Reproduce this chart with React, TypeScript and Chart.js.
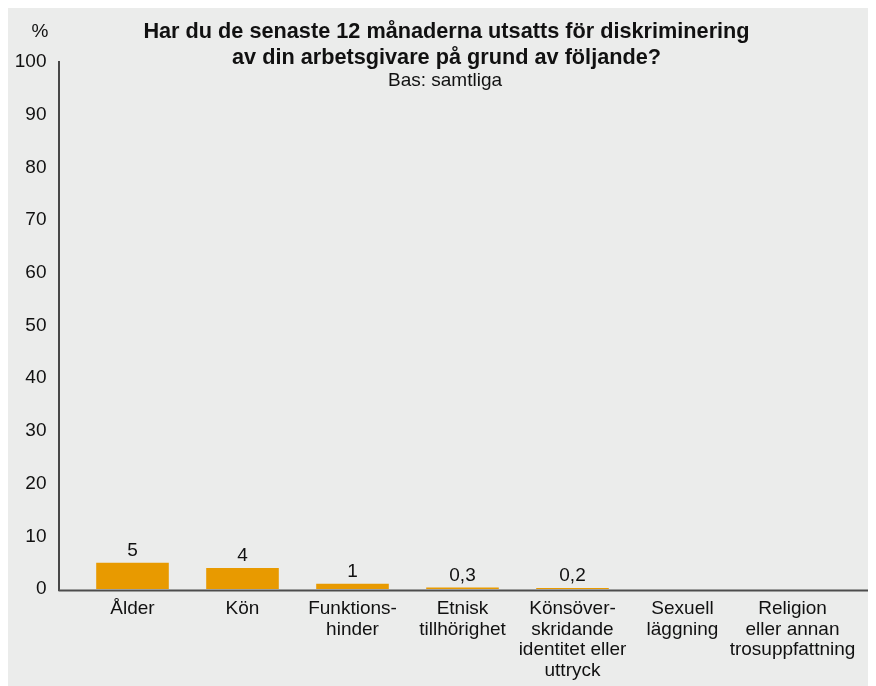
import React, { useEffect, useRef } from "react";
import { Chart, registerables } from "chart.js";

Chart.register(...registerables);

const categories: (string | string[])[] = [
  "Ålder",
  "Kön",
  ["Funktions-", "hinder"],
  ["Etnisk", "tillhörighet"],
  ["Könsöver-", "skridande", "identitet eller", "uttryck"],
  ["Sexuell", "läggning"],
  ["Religion", "eller annan", "trosuppfattning"],
];
const values = [5, 4, 1, 0.3, 0.2, 0, 0];
const titleLines = [
  "Har du de senaste 12 månaderna utsatts för diskriminering",
  "av din arbetsgivare på grund av följande?",
];
const subtitle = "Bas: samtliga";
const yUnit = "%";

const FONT = "'Liberation Sans', Arial, sans-serif";
const BAR = "#e89a00";
const BG = "#ebeceb";

const overlay = {
  id: "overlay",
  afterDraw(chart: any) {
    const ctx = chart.ctx;
    ctx.save();
    // axes lines
    ctx.strokeStyle = "#111";
    ctx.lineWidth = 1.5;
    ctx.beginPath();
    ctx.moveTo(51, 53);
    ctx.lineTo(51, 583);
    ctx.stroke();
    ctx.strokeStyle = "#4d4d4d";
    ctx.lineWidth = 2;
    ctx.beginPath();
    ctx.moveTo(50.5, 582.5);
    ctx.lineTo(862, 582.5);
    ctx.stroke();
    // data labels
    ctx.fillStyle = "#111";
    ctx.font = `19px ${FONT}`;
    ctx.textAlign = "center";
    ctx.textBaseline = "middle";
    const meta = chart.getDatasetMeta(0);
    meta.data.forEach((bar: any, i: number) => {
      const v = values[i];
      if (v > 0) {
        ctx.fillText(String(v).replace(".", ","), bar.x, bar.y - 12);
      }
    });
    // titles
    ctx.textBaseline = "alphabetic";
    ctx.font = `bold 21.7px ${FONT}`;
    ctx.fillText(titleLines[0], 438.5, 30);
    ctx.fillText(titleLines[1], 438.5, 55.5);
    ctx.font = `19px ${FONT}`;
    ctx.fillText(subtitle, 437, 78);
    ctx.fillText(yUnit, 32, 29);
    ctx.restore();
  },
};

export default function App() {
  const ref = useRef<HTMLCanvasElement>(null);
  useEffect(() => {
    if (!ref.current) return;
    const chart = new Chart(ref.current, {
      type: "bar",
      data: {
        labels: categories,
        datasets: [
          {
            data: values,
            backgroundColor: BAR,
            barPercentage: 0.66,
            categoryPercentage: 1,
          },
        ],
      },
      options: {
        animation: false,
        responsive: false,
        maintainAspectRatio: false,
        layout: { padding: { top: 54, right: 28.5, left: 0, bottom: 0 } },
        plugins: {
          legend: { display: false },
          tooltip: { enabled: false },
          title: { display: false },
        },
        scales: {
          x: {
            grid: { display: false, drawTicks: false },
            border: { display: false },
            ticks: {
              color: "#111",
              font: { family: FONT, size: 19, lineHeight: 1.1 },
              padding: 9,
              maxRotation: 0,
              autoSkip: false,
            },
            afterFit(scale: any) {
              scale.height = 97;
            },
          },
          y: {
            min: 0,
            max: 100,
            grid: { display: false, drawTicks: false },
            border: { display: false },
            ticks: {
              stepSize: 10,
              color: "#111",
              font: { family: FONT, size: 19 },
              padding: 31,
            },
            afterFit(scale: any) {
              scale.width = 69.5;
            },
          },
        },
      },
      plugins: [overlay],
    });
    return () => chart.destroy();
  }, []);
  return (
    <div style={{ width: 868, height: 678, background: BG }}>
      <canvas ref={ref} width={868} height={678} style={{ display: "block" }} />
    </div>
  );
}
